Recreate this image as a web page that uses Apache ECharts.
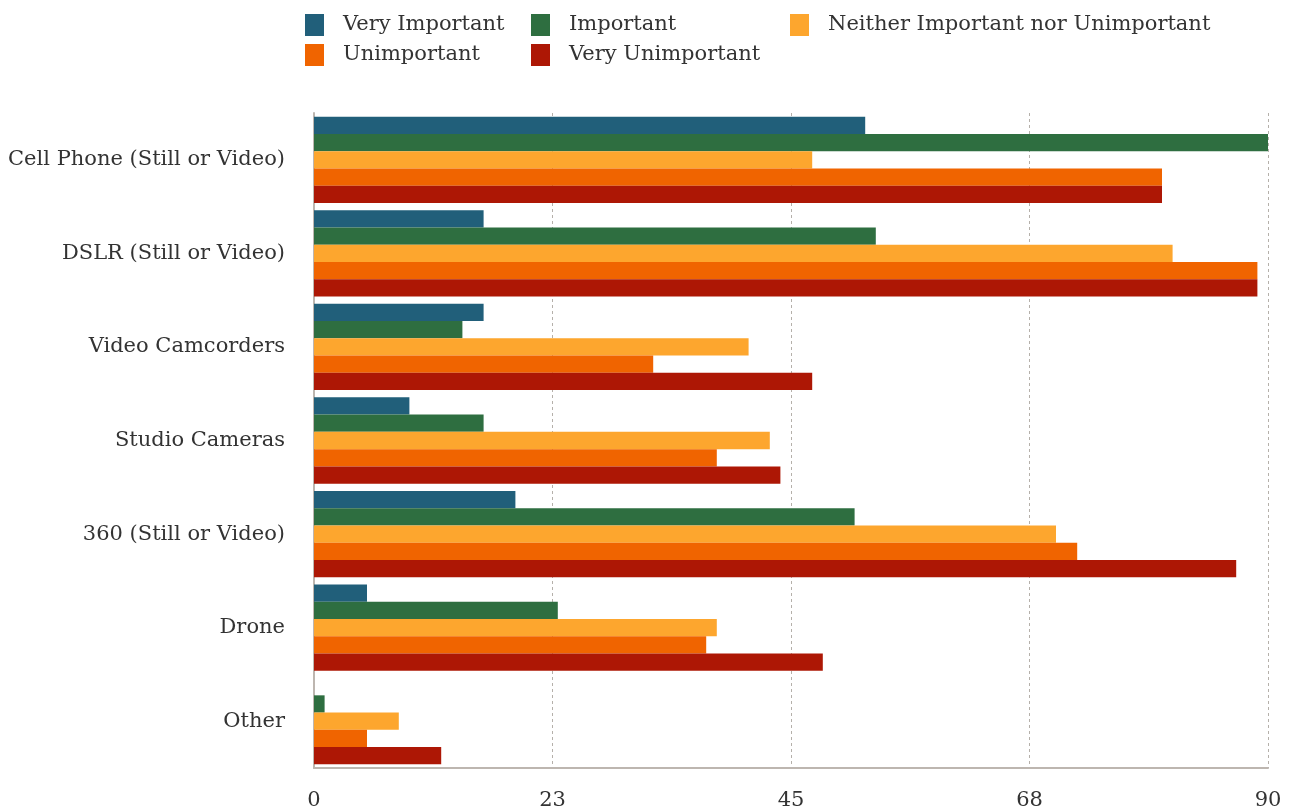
<!DOCTYPE html>
<html>
<head>
<meta charset="utf-8">
<script src="https://cdn.jsdelivr.net/npm/echarts@6/dist/echarts.min.js"></script>
<style>
  html, body { margin: 0; padding: 0; background: #fff; }
  #chart { width: 1294px; height: 811px; }
</style>
</head>
<body>
<div id="chart"></div>
<script>
// Camera types, listed top to bottom
const categories = [
  'Cell Phone (Still or Video)',
  'DSLR (Still or Video)',
  'Video Camcorders',
  'Studio Cameras',
  '360 (Still or Video)',
  'Drone',
  'Other'
];

const seriesNames = [
  'Very Important',
  'Important',
  'Neither Important nor Unimportant',
  'Unimportant',
  'Very Unimportant'
];

const veryImportant   = [52, 16, 16, 9, 19, 5, 0];
const important       = [90, 53, 14, 16, 51, 23, 1];
const neither         = [47, 81, 41, 43, 70, 38, 8];
const unimportant     = [80, 89, 32, 38, 72, 37, 5];
const veryUnimportant = [80, 89, 47, 44, 87, 48, 12];

const colors = ['#215f7a', '#2e6e40', '#fda62e', '#f06400', '#ad1705'];

const FONT = 'DejaVu Serif';

const chart = echarts.init(document.getElementById('chart'));

const legendBase = {
  orient: 'vertical',
  top: 14,
  padding: 0,
  itemWidth: 19,
  itemHeight: 22,
  itemGap: 8,
  icon: 'rect',
  textStyle: { fontFamily: FONT, fontSize: 21, color: '#333', padding: [0, 0, 0, 14] }
};

const values = [veryImportant, important, neither, unimportant, veryUnimportant];

chart.setOption({
  backgroundColor: '#fff',
  color: colors,
  legend: [
    Object.assign({}, legendBase, { left: 305, data: [seriesNames[0], seriesNames[3]] }),
    Object.assign({}, legendBase, { left: 531, data: [seriesNames[1], seriesNames[4]] }),
    Object.assign({}, legendBase, { left: 790, data: [seriesNames[2]] })
  ],
  grid: { left: 314, right: 26, top: 113, bottom: 43, containLabel: false },
  xAxis: {
    type: 'value',
    min: 0,
    max: 90,
    interval: 22.5,
    axisLine: { show: true, lineStyle: { color: '#bdb6b0', width: 2 } },
    axisTick: { show: false },
    axisLabel: {
      fontFamily: FONT, fontSize: 21, color: '#333', margin: 22,
      formatter: v => String(Math.round(v))
    },
    splitLine: {
      show: true,
      lineStyle: { color: '#b5b0aa', type: [3, 3], width: 1 }
    }
  },
  yAxis: {
    type: 'category',
    data: categories,
    inverse: true,
    axisLine: { show: true, lineStyle: { color: '#bdb6b0', width: 2 } },
    axisTick: { show: false },
    axisLabel: { fontFamily: FONT, fontSize: 21, color: '#333', margin: 29 }
  },
  series: seriesNames.map((name, i) => ({
    name,
    type: 'bar',
    data: values[i],
    barGap: '0%',
    barCategoryGap: '7.8%',
    itemStyle: { color: colors[i] }
  }))
});
</script>
</body>
</html>
